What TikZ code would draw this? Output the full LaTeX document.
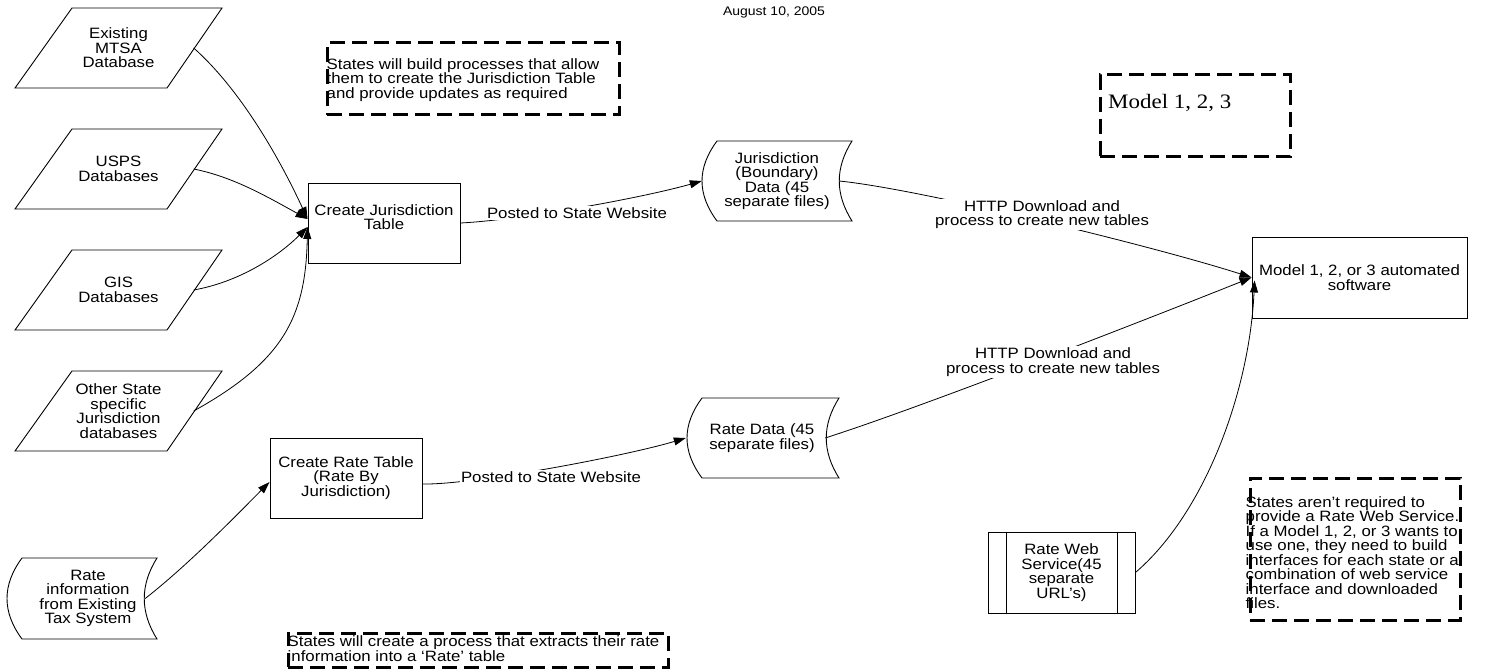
\documentclass[tikz,border=0pt]{standalone}
\usepackage{fontspec}
\setmainfont[FakeStretch=1.12]{Liberation Sans}
\newfontfamily\timesfont[FakeStretch=1.12]{Liberation Serif}
\usetikzlibrary{arrows.meta}
\tikzset{
  txt/.style={font=\fontsize{15}{14.5}\selectfont, inner sep=0pt, align=center},
  shp/.style={draw, line width=0.9pt},
  shapebox/.style={txt, draw, line width=0.9pt},
  arr/.style={-{Triangle[length=12pt,width=8pt]}, line width=0.8pt},
  lbl/.style={txt, fill=white, inner sep=1.5pt},
  notebox/.style={draw, line width=3pt, dash pattern=on 15pt off 7pt, inner sep=0pt},
  notetext/.style={txt, align=left, anchor=west},
}
\begin{document}
\begin{tikzpicture}[x=1pt,y=-1pt]
\useasboundingbox (0,0) rectangle (1488,671);

% date
\node[txt, font=\fontsize{12.5}{14}\selectfont] (date) at (774,12) {August 10, 2005};

% input parallelograms
\draw[shp] (15,88) -- (72,8) -- (222,8) -- (167,88) -- cycle;
\node[txt, minimum width=150pt, minimum height=80pt] (mtsa) at (118.5,48) {Existing\\MTSA\\Database};
\draw[shp] (15,209) -- (72,129) -- (222,129) -- (167,209) -- cycle;
\node[txt, minimum width=150pt, minimum height=80pt] (usps) at (118.5,169) {USPS\\Databases};
\draw[shp] (15,330) -- (72,250) -- (222,250) -- (167,330) -- cycle;
\node[txt, minimum width=150pt, minimum height=80pt] (gis) at (118.5,290) {GIS\\Databases};
\draw[shp] (15,451) -- (72,371) -- (222,371) -- (167,451) -- cycle;
\node[txt, minimum width=150pt, minimum height=80pt] (other) at (118.5,411) {Other State\\specific\\Jurisdiction\\databases};

% stored data shapes
\draw[shp] (22,558) -- (157,558) .. controls (140,585) and (140,612) .. (157,639) -- (22,639) .. controls (2,612) and (2,585) .. (22,558) -- cycle;
\node[txt, minimum width=114pt, minimum height=80pt] (ri) at (88,598.5) {Rate\\information\\from Existing\\Tax System};

\draw[shp] (717,141) -- (852,141) .. controls (835,168) and (835,194) .. (852,221) -- (717,221) .. controls (697,194) and (697,168) .. (717,141) -- cycle;
\node[txt, minimum width=150pt, minimum height=80pt] (jd) at (777,181) {Jurisdiction\\(Boundary)\\Data (45\\separate files)};

\draw[shp] (702,398) -- (839,398) .. controls (822,425) and (822,451) .. (839,478) -- (702,478) .. controls (682,451) and (682,425) .. (702,398) -- cycle;
\node[txt, minimum width=152pt, minimum height=80pt] (rd) at (762,438) {Rate Data (45\\separate files)};

% process boxes
\node[shapebox, minimum width=152pt, minimum height=80pt] (cjt) at (384,223) {Create Jurisdiction\\Table\rule[-12pt]{0pt}{0pt}};
\node[shapebox, minimum width=152pt, minimum height=80pt] (crt) at (346,478) {Create Rate Table\\(Rate By\\Jurisdiction)};
\node[shapebox, minimum width=215pt, minimum height=81pt] (mb) at (1359.5,277.5) {Model 1, 2, or 3 automated\\software};
\node[shapebox, minimum width=147pt, minimum height=81pt] (rws) at (1061.5,572.5) {Rate Web\\Service(45\\separate\\URL’s)};
\draw[shp] ([xshift=19pt]rws.north west) -- ([xshift=19pt]rws.south west);
\draw[shp] ([xshift=-18pt]rws.north east) -- ([xshift=-18pt]rws.south east);

% connectors
\draw[arr] (mtsa.east) .. controls +(45,40) and +(-30,-65) .. ([yshift=4pt]cjt.west);
\draw[arr] (usps.east) .. controls +(40,8) and +(-40,-22) .. ([yshift=4pt]cjt.west);
\draw[arr] (gis.east) .. controls +(45,-8) and +(-30,30) .. ([yshift=-4pt]cjt.west);
\draw[arr] (other.east) .. controls +(90,-50) and +(-2,90) .. ([yshift=-4pt]cjt.west);
\draw[arr] (ri.east) .. controls +(45,-35) and +(-25,25) .. ([yshift=-4pt]crt.west);
\draw[arr] (cjt.east) .. controls +(60,-3) and +(-60,17) .. (jd.west);
\draw[arr] ([yshift=-6pt]crt.east) .. controls +(50,1) and +(-60,18) .. (rd.west);
\draw[arr] ([xshift=-13pt]jd.east) .. controls +(80,8) and +(-100,-32) .. (mb.west);
\draw[arr] ([xshift=-13pt]rd.east) .. controls +(100,-32) and +(-90,36) .. (mb.west);
\draw[arr] (rws.east) .. controls +(70,-60) and +(-5,110) .. ([xshift=3pt,yshift=-3pt]mb.west);

% connector labels
\node[lbl] (l1) at (577,213) {Posted to State Website};
\node[lbl] (l2) at (551,477) {Posted to State Website};
\node[lbl] (l3) at (1042,214.5) {HTTP Download and\\process to create new tables};
\node[lbl] (l4) at (1053,362) {HTTP Download and\\process to create new tables};

% dashed notes
\node[notebox, minimum width=292pt, minimum height=72pt] (noteA) at (473,79) {};
\node[notetext] (noteAt) at ([xshift=1pt,yshift=-1pt]noteA.west) {States will build processes that allow\\them to create the Jurisdiction Table\\and provide updates as required};

\node[notebox, minimum width=190pt, minimum height=82pt] (noteM) at (1195,116) {};
\node[txt, anchor=west, font=\timesfont\fontsize{20.5}{24}\selectfont] (noteMt) at (1108,103) {Model 1, 2, 3};

\node[notebox, minimum width=210pt, minimum height=142pt] (noteC) at (1355,549) {};
\node[notetext] (noteCt) at ([xshift=-3pt,yshift=-3.5pt]noteC.west) {States aren’t required to\\provide a Rate Web Service.\\If a Model 1, 2, or 3 wants to\\use one, they need to build\\interfaces for each state or a\\combination of web service\\interface and downloaded\\files.};

\node[notebox, minimum width=380pt, minimum height=34pt] (noteD) at (478,650) {};
\node[notetext] (noteDt) at ([xshift=1pt,yshift=1.5pt]noteD.west) {States will create a process that extracts their rate\\information into a ‘Rate’ table};
\end{tikzpicture}
\end{document}
